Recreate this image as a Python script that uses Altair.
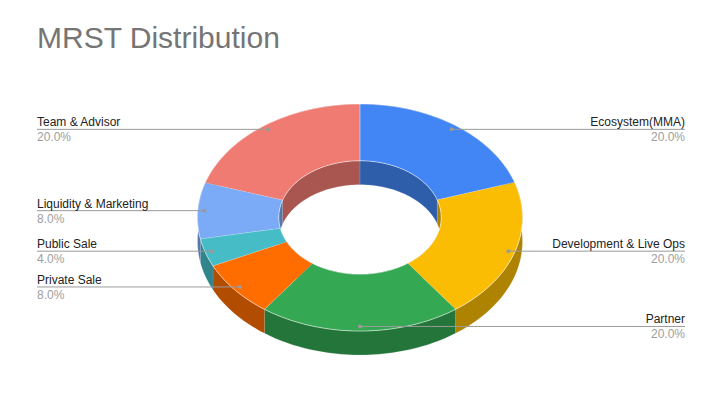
import numpy as np
import pandas as pd
import altair as alt

# ---- data ----
names = ["Ecosystem(MMA)", "Development & Live Ops", "Partner", "Private Sale",
         "Public Sale", "Liquidity & Marketing", "Team & Advisor"]
shares = [20, 20, 20, 8, 4, 8, 20]
colors = ["#4285F4", "#FBBC04", "#34A853", "#FF6D01", "#46BDC6", "#7BAAF7", "#F07B72"]
title_text = "MRST Distribution"

# ---- geometry (style) ----
HOLE = 0.5
DEPTH = 0.2115
LABEL_R = 0.96
N = 48
XD = 360 / 162.5
YB = 217.5 / 113.5
YA = YB - 393 / 113.5
FONT = "Liberation Sans"


def darker(c, f=0.7):
    r, g, b = int(c[1:3], 16), int(c[3:5], 16), int(c[5:7], 16)
    return "#%02x%02x%02x" % (int(r * f), int(g * f), int(b * f))


wall_colors = [darker(c) for c in colors]

total = float(sum(shares))
ends = np.cumsum(shares) / total * 2 * np.pi
starts = np.concatenate([[0.0], ends[:-1]])


def polygons(ra, oa, rb, ob):
    rows = []
    for name, a0, a1 in zip(names, starts, ends):
        t = np.linspace(a0, a1, N)
        k = 0
        for a in t:
            rows.append({"name": name, "k": k, "u": ra * np.sin(a), "v": ra * np.cos(a) + oa})
            k += 1
        for a in t[::-1]:
            rows.append({"name": name, "k": k, "u": rb * np.sin(a), "v": rb * np.cos(a) + ob})
            k += 1
    return pd.DataFrame(rows)


top_df = polygons(1.0, 0.0, HOLE, 0.0)
outer_df = polygons(1.0, 0.0, 1.0, -DEPTH)
inner_df = polygons(HOLE, 0.0, HOLE, -DEPTH)

mid = (starts + ends) / 2
lab_df = pd.DataFrame({
    "name": names,
    "pct": np.array(shares) / total,
    "u": LABEL_R * np.sin(mid),
    "v": LABEL_R * np.cos(mid),
    "side": np.where(mid > np.pi, "left", "right"),
})

xs = alt.X("u:Q", scale=alt.Scale(domain=[-XD, XD], nice=False, zero=False), axis=None)
ys = alt.Y("v:Q", scale=alt.Scale(domain=[YA, YB], nice=False, zero=False), axis=None)


def poly_layer(df, pal, stroke_op):
    return alt.Chart(df).mark_line(filled=True, stroke="white", strokeWidth=0.6,
                                   strokeOpacity=stroke_op).encode(
        x=xs, y=ys,
        color=alt.Color("name:N", scale=alt.Scale(domain=names, range=pal), legend=None),
        order=alt.Order("k:Q"),
    )


outer_layer = poly_layer(outer_df, wall_colors, 0.35)
inner_layer = poly_layer(inner_df, wall_colors, 0.35)
top_layer = poly_layer(top_df, colors, 0.8)

base = alt.Chart(lab_df)
left = base.transform_filter(alt.datum.side == "left")
right = base.transform_filter(alt.datum.side == "right")

rule_l = left.mark_rule(color="#9A9A9A", strokeWidth=1).encode(x=xs, x2=alt.value(37), y=ys)
rule_r = right.mark_rule(color="#9A9A9A", strokeWidth=1).encode(x=xs, x2=alt.value(685), y=ys)
dots = base.mark_circle(color="#9A9A9A", opacity=1, size=16).encode(x=xs, y=ys)

txt_l = left.mark_text(align="left", baseline="alphabetic", dy=-3, font=FONT, fontSize=12,
                       color="#222222").encode(x=alt.value(37), y=ys, text="name:N")
pct_l = left.mark_text(align="left", baseline="alphabetic", dy=12, font=FONT, fontSize=12,
                       color="#9E9E9E").encode(x=alt.value(37), y=ys,
                                               text=alt.Text("pct:Q", format=".1%"))
txt_r = right.mark_text(align="right", baseline="alphabetic", dy=-3, font=FONT, fontSize=12,
                        color="#222222").encode(x=alt.value(685), y=ys, text="name:N")
pct_r = right.mark_text(align="right", baseline="alphabetic", dy=12, font=FONT, fontSize=12,
                        color="#9E9E9E").encode(x=alt.value(685), y=ys,
                                                text=alt.Text("pct:Q", format=".1%"))

title = alt.Chart(pd.DataFrame({"t": [title_text]})).mark_text(
    align="left", baseline="alphabetic", font=FONT, fontSize=30, color="#757575"
).encode(x=alt.value(37), y=alt.value(48), text="t:N")

chart = alt.layer(
    outer_layer, inner_layer, top_layer, rule_l, rule_r, dots,
    txt_l, pct_l, txt_r, pct_r, title
).resolve_scale(color="independent").properties(
    width=720, height=393, autosize=alt.AutoSizeParams(type="none"), padding=0,
    background="white"
).configure_view(stroke=None)

chart.save("out.html", embed_options={"renderer": "svg", "actions": False})
